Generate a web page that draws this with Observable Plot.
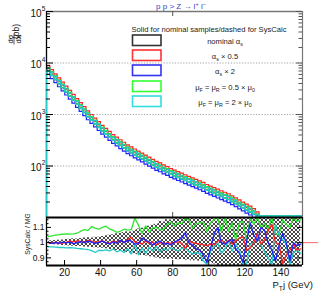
<!DOCTYPE html>
<html><head><meta charset="utf-8">
<script src="https://cdn.jsdelivr.net/npm/d3@7"></script>
<script src="https://cdn.jsdelivr.net/npm/@observablehq/plot@0.6"></script>
<style>
body{margin:0;background:#fff;}
#wrap{position:relative;width:318px;height:291px;overflow:hidden;background:#fff;}
#wrap svg{position:absolute;left:0;}
</style></head><body><div id="wrap"></div>
<script>
const FONT = "'Liberation Sans', Arial, Helvetica, sans-serif";

// bin centres (GeV)
const binCenters = [
 11,13,15,17,19,21,23,25,27,29,
 31,33,35,37,39,41,43,45,47,49,
 51,53,55,57,59,61,63,65,67,69,
 71,73,75,77,79,81,83,85,87,89,
 91,93,95,97,99,101,103,105,107,109,
 111,113,115,117,119,121,123,125,127,129,
 131,133,135,137,139,141,143,145,147,149,
 151];

// main panel: dsigma/dX (pb)
const nominalVals = [
 7413,6166,5129,4266,3548,2951,2455,2042,1698,1413,
 1175,977,832,708,603,513,447,389,339,302,
 269,240,214,195,178,162,148,135,123,112,
 102,95.5,87.1,81.3,74.1,69.2,64.6,60.3,56.2,52.5,
 49.0,45.7,42.7,39.8,36.3,33.9,31.6,29.5,27.5,25.7,
 24.0,21.9,20.0,18.2,16.6,15.1,13.8,12.3,10.7,8.9,
 8.1,7.4,6.8,6.0,5.5,5.0,4.5,4.1,3.7,3.3,
 3.0];
const asHalfVals = [
 8300,6900,5740,4780,3970,3300,2750,2290,1900,1580,
 1320,1095,932,793,675,575,500,436,380,338,
 301,269,240,218,199,181,166,151,138,125,
 114,107,97.5,91.0,83.0,77.5,72.4,67.5,63.0,58.8,
 54.9,51.2,47.8,44.6,40.7,38.0,35.4,33.0,30.8,28.8,
 26.9,24.5,22.4,20.4,18.6,16.9,15.5,13.8,12.0,10.0,
 9.1,8.3,7.6,6.7,6.2,5.6,5.0,4.6,4.1,3.7,
 3.4];
const asTwiceVals = [
 6450,5360,4460,3710,3090,2570,2140,1780,1480,1230,
 1020,850,724,616,525,446,389,338,295,263,
 234,209,186,170,155,141,129,117,107,97.4,
 88.7,83.1,75.8,70.7,64.5,60.2,56.2,52.5,48.9,45.7,
 42.6,39.8,37.1,34.6,31.6,29.5,27.5,25.7,23.9,22.4,
 20.9,19.1,17.4,15.8,14.4,13.1,12.0,10.7,9.3,7.7,
 7.0,6.4,5.9,5.2,4.8,4.4,3.9,3.6,3.2,2.9,
 2.6];
const muHalfVals = [
 7560,6290,5230,4350,3620,3010,2500,2080,1730,1440,
 1200,997,849,722,615,523,456,397,346,308,
 274,245,218,199,182,165,151,138,125,114,
 104,97.4,88.8,82.9,75.6,70.6,65.9,61.5,57.3,53.6,
 50.0,46.6,43.6,40.6,37.0,34.6,32.2,30.1,28.1,26.2,
 24.5,22.3,20.4,18.6,16.9,15.4,14.1,12.5,10.9,9.1,
 8.3,7.5,6.9,6.1,5.6,5.1,4.6,4.2,3.8,3.4,
 3.1];
const muTwiceVals = [
 7340,6100,5080,4220,3510,2920,2430,2020,1680,1400,
 1160,967,824,701,597,508,443,385,336,299,
 266,238,212,193,176,160,147,134,122,111,
 101,94.5,86.2,80.5,73.4,68.5,64.0,59.7,55.6,52.0,
 48.5,45.2,42.3,39.4,35.9,33.6,31.3,29.2,27.2,25.4,
 23.8,21.7,19.8,18.0,16.4,14.9,13.7,12.2,10.6,8.8,
 8.0,7.3,6.7,5.9,5.4,5.0,4.5,4.1,3.7,3.3,
 3.0];

// ratio panel: SysCalc / MG
const ratioMuHalf = [
 1.040,1.045,1.050,1.052,1.055,1.058,1.056,1.058,1.062,1.075,
 1.085,1.080,1.105,1.095,1.088,1.100,1.108,1.090,1.080,1.068,
 1.075,1.088,1.082,1.085,1.160,1.115,1.060,1.110,1.070,1.098,
 1.100,1.085,1.088,1.120,1.135,1.110,1.130,1.125,1.160,1.150,
 1.095,1.125,1.130,1.135,1.070,1.130,1.150,1.165,1.070,1.165,
 1.075,1.130,1.015,1.130,1.140,1.008,1.165,1.120,1.165,1.100,
 1.125,1.090,1.165,1.060,1.050,1.150,1.120,1.100,1.165,1.140,
 1.150];
const ratioMuTwice = [
 0.973,0.972,0.970,0.968,0.968,0.966,0.967,0.965,0.962,0.960,
 0.957,0.955,0.948,0.935,0.950,0.948,0.952,0.946,0.958,0.940,
 0.950,0.935,0.960,0.925,0.990,0.920,0.965,0.930,0.970,0.945,
 0.975,0.940,0.960,0.950,0.968,0.955,0.945,0.962,0.968,0.940,
 0.927,0.935,0.930,0.880,0.858,0.945,0.975,1.000,0.930,0.960,
 1.010,0.945,0.990,0.950,0.860,0.860,0.990,1.000,1.040,0.985,
 0.940,0.900,0.855,1.120,1.050,1.020,0.990,0.855,0.935,0.950,
 0.930];
const ratioAsHalf = [
 1.000,0.998,1.002,1.000,0.996,1.004,1.010,1.005,1.012,1.008,
 1.000,1.015,1.010,1.002,1.006,1.012,1.000,0.995,1.010,1.004,
 1.012,1.000,1.020,1.035,1.005,1.000,0.990,1.010,0.995,1.005,
 0.985,1.000,0.990,1.000,0.995,1.000,1.005,0.995,0.960,1.010,
 1.000,0.995,0.990,0.985,0.980,0.990,0.985,1.010,1.020,0.995,
 1.015,0.990,1.010,1.030,1.040,0.950,0.965,1.000,1.060,0.990,
 1.020,1.080,1.120,1.000,0.990,0.860,0.920,0.950,0.990,0.950,
 0.960];
const ratioAsTwice = [
 1.002,0.995,1.000,0.996,1.004,0.998,1.003,0.992,1.000,1.006,
 1.000,1.010,1.004,0.995,1.002,1.010,0.998,0.992,1.005,0.996,
 1.015,1.000,1.015,1.010,0.990,0.995,1.030,1.015,1.005,0.985,
 1.000,1.010,0.990,0.995,0.985,1.005,1.015,1.030,1.065,1.000,
 0.985,0.960,0.950,0.920,0.870,0.960,1.060,1.100,1.000,0.990,
 1.010,1.020,0.960,0.930,0.870,1.010,1.130,1.050,1.010,1.100,
 1.080,1.000,0.950,0.880,0.980,1.060,1.000,0.880,1.000,0.980,
 0.990];
const bandHi = [
 1.010,1.012,1.014,1.016,1.018,1.020,1.022,1.025,1.024,1.028,
 1.030,1.032,1.030,1.035,1.036,1.040,1.045,1.048,1.052,1.058,
 1.062,1.066,1.072,1.070,1.082,1.090,1.095,1.100,1.108,1.115,
 1.120,1.140,1.135,1.150,1.148,1.155,1.160,1.180,1.190,1.200,
 1.200,1.200,1.200,1.200,1.200,1.200,1.200,1.200,1.200,1.200,
 1.200,1.200,1.200,1.200,1.200,1.200,1.200,1.200,1.200,1.200,
 1.200,1.200,1.200,1.200,1.200,1.200,1.200,1.200,1.200,1.200,
 1.200];
const bandLo = [
 0.990,0.988,0.986,0.984,0.982,0.980,0.978,0.976,0.975,0.974,
 0.972,0.970,0.968,0.966,0.965,0.963,0.960,0.955,0.952,0.948,
 0.944,0.940,0.935,0.930,0.925,0.920,0.915,0.912,0.908,0.905,
 0.900,0.895,0.893,0.890,0.895,0.890,0.888,0.890,0.885,0.888,
 0.880,0.885,0.878,0.875,0.870,0.870,0.860,0.800,0.800,0.800,
 0.800,0.800,0.800,0.800,0.800,0.800,0.800,0.800,0.800,0.800,
 0.800,0.800,0.800,0.800,0.800,0.800,0.800,0.800,0.800,0.800,
 0.800];

const xTicks = [20, 40, 60, 80, 100, 120, 140];
const ratioTicks = [0.9, 1, 1.1];
const decadeTicks = [100, 1000, 10000, 100000];
const gridDecades = [100, 1000, 10000];

const C = {black: "#111", red: "#f22", blue: "#22f", green: "#2ee62e", cyan: "#26c8c8"};
const mainSeries = [
  {vals: nominalVals, color: C.black},
  {vals: asHalfVals, color: C.red},
  {vals: asTwiceVals, color: C.blue},
  {vals: muHalfVals, color: C.green},
  {vals: muTwiceVals, color: C.cyan}
];
const ratioSeries = [
  {vals: ratioMuHalf, color: C.green},
  {vals: ratioMuTwice, color: C.cyan},
  {vals: ratioAsHalf, color: C.red},
  {vals: ratioAsTwice, color: C.blue}
];
const rows = vals => binCenters.map((x, i) => ({x, v: vals[i]}));

const minorLog = [];
for (const d of [10, 100, 1000, 10000]) for (let m = 2; m <= 9; m++) minorLog.push(d * m);
const minorRatio = [0.875, 0.925, 0.95, 0.975, 1.025, 1.05, 1.075, 1.125, 1.15];

const XMIN = 10, XMAX = 152;

const mainSvg = Plot.plot({
  width: 318, height: 218,
  marginTop: 11, marginBottom: 1, marginLeft: 46, marginRight: 16,
  style: {background: "transparent", fontFamily: FONT, color: "#111"},
  x: {domain: [XMIN, XMAX], axis: null},
  y: {type: "log", domain: [10, 1e5], axis: null},
  marks: [
    Plot.ruleY(gridDecades, {stroke: "#999", strokeDasharray: "1.2,1.6", strokeWidth: 0.9}),
    ...mainSeries.map(s => Plot.dot(rows(s.vals), {
      x: "x", y: d => Math.max(d.v, 10), symbol: "square", r: 1.8,
      stroke: s.color, strokeWidth: 1.2, fill: "none"
    })),
    Plot.ruleX([XMIN], {stroke: "#000", strokeWidth: 1.3}),
    Plot.ruleX([XMIN], {y1: 10, y2: muTwiceVals[0], stroke: C.cyan, strokeWidth: 1.4}),
    Plot.ruleY([1e5], {stroke: "#777", strokeWidth: 1.6}),
    Plot.ruleX([XMAX], {stroke: "#777", strokeWidth: 1.2}),
    // left ticks
    Plot.ruleY(decadeTicks, {x1: XMIN, x2: XMIN, insetRight: -7, stroke: "#000"}),
    Plot.ruleY(minorLog, {x1: XMIN, x2: XMIN, insetRight: -4, stroke: "#000"}),
    // right ticks
    Plot.ruleY(decadeTicks, {x1: XMAX, x2: XMAX, insetLeft: -6, stroke: "#555"}),
    Plot.ruleY(minorLog, {x1: XMAX, x2: XMAX, insetLeft: -3.5, stroke: "#555"}),
    // top / bottom tick
    Plot.ruleX([80], {y1: 1e5, y2: 1e5, insetBottom: -5, stroke: "#555"}),
    Plot.ruleX([80], {y1: 10, y2: 10, insetTop: -5, stroke: "#555"}),
    // y tick labels 10^n
    Plot.text(decadeTicks, {x: XMIN, y: d => d, text: () => "10", textAnchor: "end", dx: -5, dy: 2, fontSize: 10, fill: "#111"}),
    Plot.text(decadeTicks, {x: XMIN, y: d => d, text: d => String(Math.round(Math.log10(d))), textAnchor: "start", dx: -4.8, dy: -3, fontSize: 6.5, fill: "#111"})
  ]
});

const ratioSvg = Plot.plot({
  width: 318, height: 77,
  marginTop: 3, marginBottom: 26, marginLeft: 46, marginRight: 16,
  style: {background: "transparent", fontFamily: FONT, color: "#111"},
  x: {domain: [XMIN, XMAX], axis: null},
  y: {domain: [0.85, 1.165], axis: null},
  marks: [
    Plot.areaY(binCenters.map((x, i) => ({x, lo: bandLo[i], hi: bandHi[i]})),
      {x: "x", y1: "lo", y2: "hi", fill: "url(#hatch)", curve: "step", clip: true}),
    ...ratioSeries.map(s => Plot.line(rows(s.vals), {x: "x", y: "v", stroke: s.color, strokeWidth: 1.3, clip: true})),
    Plot.ruleY([1], {x1: XMAX, x2: XMAX, insetRight: -20, stroke: "#f66", strokeWidth: 1}),
    Plot.ruleY([1.165], {stroke: "#000", strokeWidth: 2}),
    Plot.ruleY([0.85], {stroke: "#000", strokeWidth: 2}),
    Plot.ruleX([XMIN], {stroke: "#000", strokeWidth: 1.3}),
    Plot.ruleX([XMAX], {stroke: "#000", strokeWidth: 1.3}),
    Plot.ruleX(xTicks, {y1: 0.85, y2: 0.85, insetTop: -5, stroke: "#000"}),
    Plot.ruleY(ratioTicks, {x1: XMIN, x2: XMIN, insetRight: -5, stroke: "#000"}),
    Plot.ruleY(minorRatio, {x1: XMIN, x2: XMIN, insetRight: -2.5, stroke: "#000"}),
    Plot.ruleY(ratioTicks, {x1: XMAX, x2: XMAX, insetLeft: -5, stroke: "#000"}),
    Plot.text(xTicks, {x: d => d, y: 0.85, dy: 7, text: d => String(d), fontSize: 10, fill: "#111"}),
    Plot.text(ratioTicks, {x: XMIN, y: d => d, dx: -2, textAnchor: "end", text: d => d === 1 ? "1" : d.toFixed(1), fontSize: 8.5, fill: "#111"})
  ]
});

d3.select(ratioSvg).insert("defs", ":first-child").html(
  '<pattern id="hatch" width="4" height="4" patternUnits="userSpaceOnUse">' +
  '<rect width="4" height="4" fill="#fff"/>' +
  '<path d="M0,0L4,4M4,0L0,4M-1,1L1,-1M3,5L5,3M-1,3L1,5M3,-1L5,1" stroke="#333" stroke-width="0.9"/></pattern>');

const wrap = document.getElementById("wrap");
mainSvg.style.top = "0px";
ratioSvg.style.top = "214px";
wrap.appendChild(mainSvg);
wrap.appendChild(ratioSvg);

// rich text helper: parts = [[text, kind]] kind: undefined | "sub" | "sup"
function rich(sel, x, y, parts, size, anchor, fill) {
  const t = sel.append("text").attr("x", x).attr("y", y).attr("font-size", size)
    .attr("text-anchor", anchor || "start").attr("fill", fill || "#111").attr("font-family", FONT);
  let shift = 0;
  for (const [s, k] of parts) {
    const target = k === "sub" ? size * 0.3 : k === "sup" ? -size * 0.4 : 0;
    const ts = t.append("tspan").text(s).attr("dy", target - shift);
    if (k) ts.attr("font-size", size * 0.7);
    shift = target;
  }
  return t;
}

const m = d3.select(mainSvg);
// title
rich(m, 181, 9, [["p p > Z \u2192 l"], ["+", "sup"], [" l"], ["\u2212", "sup"]], 8, "middle", "#3b3bc4");

// legend
const legendTitle = "Solid for nominal samples/dashed for SysCalc";
const legendColors = ["#333", "#f33", "#33e", "#3f3", "#3dd"];
const legendLabels = [
  [["nominal \u03b1"], ["s", "sub"]],
  [["\u03b1"], ["s", "sub"], [" \u00d7 0.5"]],
  [["\u03b1"], ["s", "sub"], [" \u00d7 2"]],
  [["\u03bc"], ["F", "sub"], [" = \u03bc"], ["R", "sub"], [" = 0.5 \u00d7 \u03bc"], ["0", "sub"]],
  [["\u03bc"], ["F", "sub"], [" = \u03bc"], ["R", "sub"], [" = 2 \u00d7 \u03bc"], ["0", "sub"]]
];
const lg = m.append("g");
lg.append("text").attr("x", 209).attr("y", 32).attr("text-anchor", "middle").attr("font-size", 7.6)
  .attr("font-family", FONT).attr("fill", "#222").text(legendTitle);
const rowY = [35, 50, 65, 81, 96];
legendColors.forEach((c, i) => {
  lg.append("rect").attr("x", 132.5).attr("y", rowY[i]).attr("width", 28.5).attr("height", 10.5)
    .attr("fill", "#fff").attr("stroke", c).attr("stroke-width", 1.6);
  rich(lg, 225, rowY[i] + 9, legendLabels[i], 7.6, "middle", "#222");
});

// y-axis title (rotated)
const yl = m.append("g").attr("transform", "translate(14,45) rotate(-90)").attr("font-family", FONT).attr("fill", "#111");
yl.append("text").attr("x", 6).attr("y", -1.5).attr("font-size", 7.5).attr("text-anchor", "middle").text("d\u03c3");
yl.append("line").attr("x1", 0.5).attr("x2", 11.5).attr("y1", 0).attr("y2", 0).attr("stroke", "#111").attr("stroke-width", 0.7);
yl.append("text").attr("x", 6).attr("y", 6.5).attr("font-size", 7.5).attr("text-anchor", "middle").text("dX");
yl.append("text").attr("x", 13.5).attr("y", 5).attr("font-size", 8.5).text("(pb)");

// ratio axis titles
const r = d3.select(ratioSvg);
r.append("text").attr("transform", "translate(30,20) rotate(-90)").attr("text-anchor", "middle")
  .attr("font-size", 6.8).attr("font-family", FONT).attr("fill", "#222").text("SysCalc / MG");
rich(r, 313, 74, [["P"], ["T", "sub"], ["j (GeV)"]], 9.5, "end", "#111");
</script></body></html>
